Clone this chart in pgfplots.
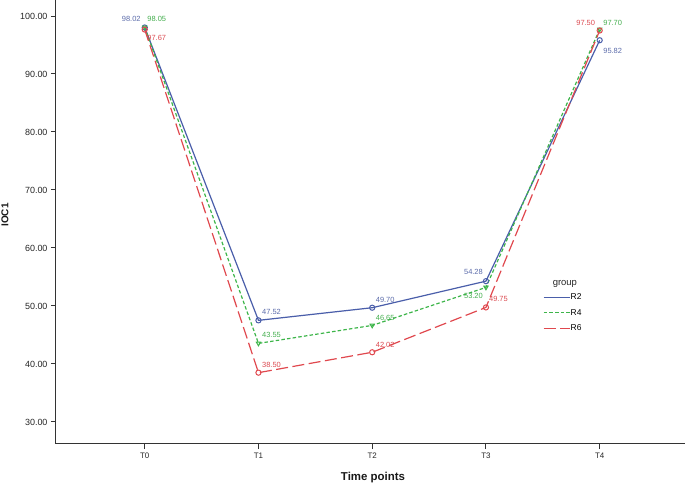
\documentclass[border=0pt]{standalone}
\usepackage{pgfplots}
\pgfplotsset{compat=1.18}
\usepackage{fontspec}
\setmainfont{Liberation Sans}
\definecolor{cB}{HTML}{4A5EAA}
\definecolor{cG}{HTML}{3DB54A}
\definecolor{cR}{HTML}{E0484E}
\definecolor{tB}{HTML}{5B6BAA}
\definecolor{tG}{HTML}{44AE4E}
\definecolor{tR}{HTML}{DB4A50}
\begin{document}
\begin{tikzpicture}
\path[use as bounding box] (-56bp,-43bp) rectangle (629bp,444bp);
\begin{axis}[
  at={(0bp,0bp)}, anchor=south west, scale only axis,
  width=629bp, height=444bp,
  xmin=-0.78, xmax=4.75, ymin=26.2, ymax=102.76,
  axis x line*=bottom, axis y line*=left,
  axis line style={line width=1bp, black!80, -},
  xtick={0,1,2,3,4}, xticklabels={T0,T1,T2,T3,T4},
  ytick={30,40,50,60,70,80,90,100},
  yticklabel={\pgfmathprintnumber[fixed,fixed zerofill,precision=2]{\tick}},
  /pgf/number format/assume math mode=true,
  tick align=outside, major tick length=5bp,
  tick style={black!80, line width=1bp},
  xticklabel style={font=\fontsize{8}{9}\selectfont, text=black!85},
  yticklabel style={font=\fontsize{9}{10}\selectfont, text=black!85},
  clip=false,
  legend style={at={(rel axis cs:0.774,0.340)}, anchor=north west, draw=none, fill=none,
    inner sep=0pt, font=\fontsize{8.5}{9}\selectfont, row sep=7.5bp,
    nodes={inner sep=0.5bp, text height=6bp, text depth=1bp}},
  legend cell align=left,
  legend image code/.code={\draw[#1, line width=1.2bp] (0bp,0bp) -- (26bp,0bp);},
]
\addplot[cB, line width=1.2bp, mark=o, mark size=2.6bp, mark options={solid, line width=1bp}]
  coordinates {(0,98.02) (1,47.52) (2,49.70) (3,54.28) (4,95.82)};
\addlegendentry{R2}
\addplot[cG, line width=1.2bp, dash pattern=on 3.5bp off 2.2bp, mark=triangle, mark size=2.4bp, mark options={solid, rotate=180, line width=1bp}]
  coordinates {(0,98.05) (1,43.55) (2,46.65) (3,53.20) (4,97.70)};
\addlegendentry{R4}
\addplot[cR, line width=1.2bp, dash pattern=on 12bp off 4.5bp, mark=o, mark size=2.6bp, mark options={solid, line width=1bp}]
  coordinates {(0,97.67) (1,38.50) (2,42.02) (3,49.75) (4,97.50)};
\addlegendentry{R6}

\tikzset{lab/.style={font=\fontsize{7.5}{8}\selectfont, inner sep=0pt}}
% T0
\node[lab, text=tB, xshift=-13.5bp, yshift=8.5bp] at (axis cs:0,98.02) {98.02};
\node[lab, text=tG, xshift=12bp, yshift=8.3bp] at (axis cs:0,98.05) {98.05};
\node[lab, text=tR, xshift=12bp, yshift=-8.5bp] at (axis cs:0,97.67) {97.67};
% T1
\node[lab, text=tB, xshift=13bp, yshift=8bp] at (axis cs:1,47.52) {47.52};
\node[lab, text=tG, xshift=13bp, yshift=8bp] at (axis cs:1,43.55) {43.55};
\node[lab, text=tR, xshift=13bp, yshift=8bp] at (axis cs:1,38.50) {38.50};
% T2
\node[lab, text=tB, xshift=13bp, yshift=7.5bp] at (axis cs:2,49.70) {49.70};
\node[lab, text=tG, xshift=13bp, yshift=7.5bp] at (axis cs:2,46.65) {46.65};
\node[lab, text=tR, xshift=13bp, yshift=7.5bp] at (axis cs:2,42.02) {42.02};
% T3
\node[lab, text=tB, xshift=-12.5bp, yshift=9bp] at (axis cs:3,54.28) {54.28};
\node[lab, text=tG, xshift=-12.5bp, yshift=-8.5bp] at (axis cs:3,53.20) {53.20};
\node[lab, text=tR, xshift=12.5bp, yshift=8.5bp] at (axis cs:3,49.75) {49.75};
% T4
\node[lab, text=tR, xshift=-14bp, yshift=7.5bp] at (axis cs:4,97.50) {97.50};
\node[lab, text=tG, xshift=13bp, yshift=6.5bp] at (axis cs:4,97.70) {97.70};
\node[lab, text=tB, xshift=13bp, yshift=-10.5bp] at (axis cs:4,95.82) {95.82};

\node[font=\fontsize{9.5}{10}\selectfont, text=black!85] at (rel axis cs:0.809,0.360) {group};
\end{axis}
\node[rotate=90, font=\bfseries\fontsize{10}{11}\selectfont, text=black!90] at (-51bp,229bp) {IOC1};
\node[font=\bfseries\fontsize{11.5}{12}\selectfont, text=black!90] at (317bp,-34bp) {Time points};
\end{tikzpicture}
\end{document}
